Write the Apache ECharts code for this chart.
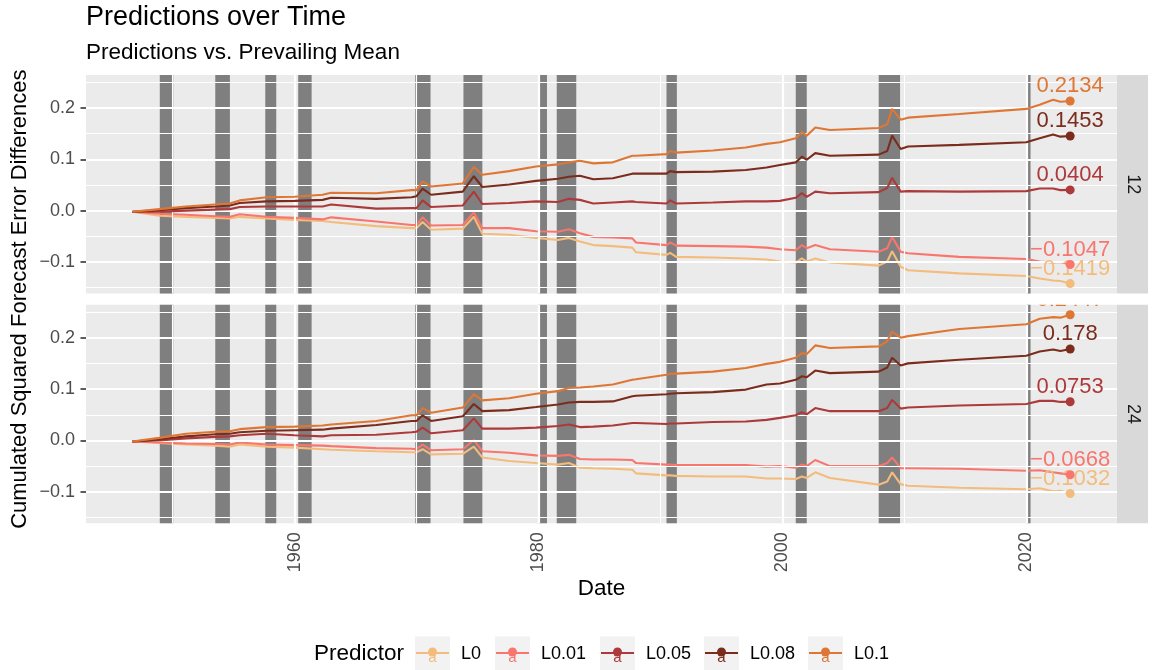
<!DOCTYPE html>
<html>
<head>
<meta charset="utf-8">
<title>Predictions over Time</title>
<script src="https://cdn.jsdelivr.net/npm/echarts@6/dist/echarts.min.js"></script>
<style>
  html, body { margin: 0; padding: 0; background: #fff; }
  #chart { width: 1153px; height: 670px; }
</style>
</head>
<body>
<div id="chart"></div>
<script>
// ---- data ----
var DATES = [
  1946.7, 1948.9, 1951.1, 1953.5, 1954.7, 1955.5, 1957.7, 1960.0, 1962.3, 1963.0,
  1966.7, 1969.6, 1970.0, 1970.5, 1971.2, 1973.8, 1974.7, 1975.4, 1977.6, 1979.8,
  1981.6, 1982.5, 1983.4, 1984.5, 1986.1, 1987.7, 1988.0, 1990.5, 1990.8, 1991.3,
  1994.3, 1997.0, 1998.7, 1999.8, 2001.1, 2001.6, 2002.0, 2002.7, 2003.9, 2007.9,
  2008.6, 2009.0, 2009.7, 2010.3, 2014.5, 2020.0, 2021.1, 2022.2, 2022.8, 2023.6
];
var PREDICTORS = ['L0', 'L0.01', 'L0.05', 'L0.08', 'L0.1'];
var HORIZONS = ['12', '24'];

// horizon 12
var H12_L0 = [
  -0.002, -0.010, -0.012, -0.014, -0.015, -0.012, -0.015, -0.018, -0.020, -0.022,
  -0.030, -0.034, -0.034, -0.022, -0.037, -0.035, -0.012, -0.045, -0.047, -0.053,
  -0.057, -0.053, -0.060, -0.067, -0.069, -0.072, -0.081, -0.086, -0.082, -0.090,
  -0.091, -0.093, -0.095, -0.099, -0.101, -0.093, -0.099, -0.093, -0.101, -0.107,
  -0.099, -0.079, -0.109, -0.116, -0.122, -0.127, -0.132, -0.136, -0.137, -0.1419
];
var H12_L001 = [
  -0.002, -0.006, -0.008, -0.011, -0.012, -0.007, -0.012, -0.014, -0.017, -0.013,
  -0.021, -0.028, -0.028, -0.013, -0.029, -0.028, -0.003, -0.034, -0.034, -0.040,
  -0.041, -0.036, -0.044, -0.051, -0.052, -0.054, -0.062, -0.067, -0.062, -0.068,
  -0.069, -0.070, -0.072, -0.075, -0.077, -0.067, -0.073, -0.067, -0.075, -0.080,
  -0.073, -0.051, -0.080, -0.083, -0.090, -0.094, -0.099, -0.101, -0.100, -0.1047
];
var H12_L005 = [
  -0.002, -0.002, 0.000, 0.002, 0.003, 0.007, 0.008, 0.008, 0.008, 0.012,
  0.004, 0.005, 0.005, 0.020, 0.007, 0.010, 0.037, 0.013, 0.015, 0.018,
  0.017, 0.023, 0.021, 0.014, 0.016, 0.018, 0.017, 0.014, 0.020, 0.014,
  0.016, 0.018, 0.018, 0.019, 0.025, 0.034, 0.027, 0.037, 0.034, 0.036,
  0.044, 0.064, 0.037, 0.038, 0.037, 0.038, 0.043, 0.043, 0.040, 0.0404
];
var H12_L008 = [
  -0.002, 0.001, 0.005, 0.008, 0.010, 0.015, 0.018, 0.019, 0.021, 0.025,
  0.023, 0.026, 0.028, 0.043, 0.031, 0.037, 0.067, 0.046, 0.051, 0.058,
  0.062, 0.066, 0.068, 0.061, 0.063, 0.072, 0.072, 0.072, 0.077, 0.075,
  0.076, 0.079, 0.084, 0.089, 0.094, 0.105, 0.099, 0.112, 0.107, 0.109,
  0.116, 0.146, 0.120, 0.125, 0.128, 0.133, 0.141, 0.148, 0.144, 0.1453
];
var H12_L01 = [
  -0.002, 0.003, 0.008, 0.012, 0.014, 0.020, 0.026, 0.027, 0.031, 0.035,
  0.034, 0.040, 0.040, 0.057, 0.047, 0.053, 0.085, 0.070, 0.077, 0.086,
  0.090, 0.094, 0.097, 0.092, 0.094, 0.107, 0.107, 0.110, 0.116, 0.113,
  0.117, 0.123, 0.130, 0.133, 0.141, 0.153, 0.146, 0.162, 0.157, 0.161,
  0.168, 0.198, 0.177, 0.181, 0.188, 0.198, 0.206, 0.216, 0.212, 0.2134
];

// horizon 24
var H24_L0 = [
  -0.002, -0.005, -0.008, -0.010, -0.012, -0.008, -0.012, -0.014, -0.017, -0.018,
  -0.021, -0.023, -0.023, -0.017, -0.027, -0.026, -0.012, -0.033, -0.040, -0.044,
  -0.047, -0.044, -0.053, -0.054, -0.055, -0.057, -0.064, -0.068, -0.068, -0.069,
  -0.070, -0.070, -0.074, -0.074, -0.075, -0.070, -0.073, -0.062, -0.073, -0.086,
  -0.080, -0.062, -0.085, -0.088, -0.092, -0.095, -0.093, -0.099, -0.098, -0.1032
];
var H24_L001 = [
  -0.002, -0.004, -0.006, -0.007, -0.008, -0.004, -0.008, -0.009, -0.010, -0.011,
  -0.015, -0.016, -0.017, -0.008, -0.019, -0.017, 0.001, -0.021, -0.024, -0.029,
  -0.030, -0.028, -0.036, -0.037, -0.037, -0.038, -0.044, -0.047, -0.047, -0.048,
  -0.048, -0.048, -0.051, -0.050, -0.053, -0.047, -0.050, -0.038, -0.050, -0.050,
  -0.044, -0.033, -0.054, -0.054, -0.055, -0.059, -0.058, -0.062, -0.064, -0.0668
];
var H24_L005 = [
  -0.002, 0.000, 0.004, 0.007, 0.008, 0.010, 0.013, 0.010, 0.008, 0.010,
  0.011, 0.016, 0.017, 0.025, 0.014, 0.020, 0.043, 0.023, 0.023, 0.025,
  0.028, 0.031, 0.026, 0.027, 0.029, 0.034, 0.034, 0.032, 0.033, 0.033,
  0.036, 0.037, 0.040, 0.044, 0.049, 0.055, 0.051, 0.063, 0.057, 0.057,
  0.063, 0.079, 0.062, 0.064, 0.068, 0.071, 0.077, 0.077, 0.075, 0.0753
];
var H24_L008 = [
  -0.002, 0.002, 0.008, 0.012, 0.013, 0.016, 0.019, 0.020, 0.021, 0.023,
  0.030, 0.038, 0.038, 0.049, 0.038, 0.047, 0.071, 0.057, 0.059, 0.065,
  0.070, 0.074, 0.075, 0.075, 0.076, 0.086, 0.087, 0.090, 0.091, 0.092,
  0.094, 0.099, 0.109, 0.111, 0.118, 0.125, 0.123, 0.136, 0.131, 0.134,
  0.142, 0.161, 0.146, 0.150, 0.157, 0.165, 0.173, 0.177, 0.174, 0.178
];
var H24_L01 = [
  -0.002, 0.005, 0.013, 0.017, 0.018, 0.022, 0.026, 0.027, 0.029, 0.031,
  0.038, 0.049, 0.049, 0.063, 0.054, 0.064, 0.090, 0.078, 0.082, 0.091,
  0.096, 0.102, 0.103, 0.105, 0.109, 0.118, 0.119, 0.128, 0.130, 0.130,
  0.134, 0.141, 0.149, 0.153, 0.161, 0.170, 0.168, 0.185, 0.180, 0.183,
  0.193, 0.212, 0.200, 0.203, 0.217, 0.226, 0.237, 0.240, 0.239, 0.2447
];

// recession shading (start, end in decimal years)
var RECESSIONS = [
  [1948.95, 1950.05], [1953.5, 1954.7], [1957.6, 1958.5], [1960.3, 1961.4],
  [1969.9, 1971.15], [1973.85, 1975.4], [1980.0, 1980.7], [1981.5, 1983.1],
  [1990.5, 1991.35], [2001.1, 2002.0], [2007.9, 2009.65], [2020.05, 2020.35]
];

var X_TICKS = [1960, 1980, 2000, 2020];
var X_MINOR = [1950, 1970, 1990, 2010];
var Y_TICKS = [-0.1, 0.0, 0.1, 0.2];
var Y_MINOR = [-0.15, -0.05, 0.05, 0.15, 0.25];

// ---- styling / layout ----
var FONT = 'Liberation Sans, Arial, Helvetica, sans-serif';
var COLORS = ['#F3BC7C', '#F8766D', '#AD3A3A', '#7B2C1C', '#DE7735'];
var X_MIN = 1942.9, X_MAX = 2027.44;
var Y_MIN = -0.1612, Y_MAX = 0.2640;
var PANEL_LEFT = 86, PANEL_W = 1031, PANEL_H = 218.5;
var PANEL_TOPS = [75, 304.8];
var STRIP_W = 31;

var PANEL_VALUES = [
  [H12_L0, H12_L001, H12_L005, H12_L008, H12_L01],
  [H24_L0, H24_L001, H24_L005, H24_L008, H24_L01]
];

function fmtNum(v) {
  var s = String(Number(v.toFixed(4)));
  return s.charAt(0) === '-' ? '\u2212' + s.slice(1) : s;
}

var chart = echarts.init(document.getElementById('chart'), null, { renderer: 'canvas' });

var grids = [], xAxes = [], yAxes = [], series = [], graphics = [];

PANEL_TOPS.forEach(function (top, p) {
  var isBottom = p === PANEL_TOPS.length - 1;
  grids.push({
    left: PANEL_LEFT, top: top, width: PANEL_W, height: PANEL_H,
    show: true, backgroundColor: '#EBEBEB', borderWidth: 0,
    containLabel: false, outerBoundsMode: 'none'
  });
  xAxes.push({
    type: 'value', gridIndex: p, min: X_MIN, max: X_MAX,
    axisLine: { show: false },
    splitLine: { show: false },
    axisTick: { show: isBottom, customValues: X_TICKS, length: 5.5,
      lineStyle: { color: '#333333', width: 1.6 } },
    axisLabel: { show: isBottom, customValues: X_TICKS, rotate: 90, margin: 9,
      fontSize: 18, color: '#4D4D4D', fontFamily: FONT,
      formatter: function (v) { return String(v); } }
  });
  yAxes.push({
    type: 'value', gridIndex: p, min: Y_MIN, max: Y_MAX,
    axisLine: { show: false },
    splitLine: { show: false },
    axisTick: { show: true, customValues: Y_TICKS, length: 5.5,
      lineStyle: { color: '#333333', width: 1.6 } },
    axisLabel: { customValues: Y_TICKS, margin: 11, fontSize: 18,
      color: '#4D4D4D', fontFamily: FONT,
      formatter: function (v) {
        return (v < -1e-9 ? '\u2212' : '') + Math.abs(v).toFixed(1);
      } }
  });

  // grid lines (white, behind everything)
  var gridLines = [];
  X_MINOR.forEach(function (v) { gridLines.push({ xAxis: v, lineStyle: { width: 1.1 } }); });
  Y_MINOR.forEach(function (v) { gridLines.push({ yAxis: v, lineStyle: { width: 1.1 } }); });
  X_TICKS.forEach(function (v) { gridLines.push({ xAxis: v, lineStyle: { width: 2.2 } }); });
  Y_TICKS.forEach(function (v) { gridLines.push({ yAxis: v, lineStyle: { width: 2.2 } }); });
  series.push({
    type: 'line', xAxisIndex: p, yAxisIndex: p, z: 1, silent: true,
    data: [[X_MIN, 0]], symbol: 'none', lineStyle: { opacity: 0 },
    animation: false,
    markLine: {
      silent: true, symbol: ['none', 'none'], animation: false,
      label: { show: false },
      lineStyle: { color: '#FFFFFF', type: 'solid' },
      emphasis: { disabled: true },
      data: gridLines
    }
  });

  // recession bars
  series.push({
    type: 'line', xAxisIndex: p, yAxisIndex: p, z: 2, silent: true,
    data: [[X_MIN, 0]], symbol: 'none', lineStyle: { opacity: 0 },
    animation: false,
    markArea: {
      silent: true, animation: false,
      itemStyle: { color: '#7F7F7F', opacity: 1 },
      emphasis: { disabled: true },
      data: RECESSIONS.map(function (r) { return [{ xAxis: r[0] }, { xAxis: r[1] }]; })
    }
  });

  // predictor lines
  PANEL_VALUES[p].forEach(function (vals, k) {
    var color = COLORS[k];
    series.push({
      name: PREDICTORS[k],
      type: 'line', xAxisIndex: p, yAxisIndex: p, z: 3 + k,
      symbol: 'none', animation: false, silent: true,
      lineStyle: { color: color, width: 2.1 },
      itemStyle: { color: color },
      data: vals.map(function (v, i) { return [DATES[i], v]; })
    });
  });

  // end points with value labels, clipped to the panel like ggplot
  series.push({
    type: 'custom', xAxisIndex: p, yAxisIndex: p, z: 10, clip: true,
    silent: true, animation: false,
    data: PANEL_VALUES[p].map(function (vals, k) {
      return [DATES[DATES.length - 1], vals[vals.length - 1], k];
    }),
    renderItem: function (params, api) {
      var v = api.value(1), k = api.value(2);
      var pt = api.coord([api.value(0), v]);
      return {
        type: 'group',
        children: [
          { type: 'circle', shape: { cx: pt[0], cy: pt[1], r: 4.5 },
            style: { fill: COLORS[k] } },
          { type: 'text', x: pt[0], y: pt[1] - 15,
            style: { text: fmtNum(v), fill: COLORS[k], font: '22px ' + FONT,
              align: 'center', verticalAlign: 'middle',
              textAlign: 'center', textVerticalAlign: 'middle' } }
        ]
      };
    }
  });

  // facet strip
  graphics.push({
    type: 'rect', z: 50,
    shape: { x: PANEL_LEFT + PANEL_W, y: top, width: STRIP_W, height: PANEL_H },
    style: { fill: '#D9D9D9' }
  });
  graphics.push({
    type: 'text', z: 51,
    x: PANEL_LEFT + PANEL_W + STRIP_W / 2, y: top + PANEL_H / 2,
    rotation: -Math.PI / 2,
    style: { text: HORIZONS[p], fill: '#1A1A1A', font: '18px ' + FONT,
      align: 'center', verticalAlign: 'middle' }
  });
});

// axis titles
graphics.push({
  type: 'text', x: 20, y: (PANEL_TOPS[0] + PANEL_TOPS[1] + PANEL_H) / 2,
  rotation: Math.PI / 2,
  style: { text: 'Cumulated Squared Forecast Error Differences', fill: '#000',
    font: '22px ' + FONT, align: 'center', verticalAlign: 'middle' }
});
graphics.push({
  type: 'text', x: PANEL_LEFT + PANEL_W / 2, y: 589,
  style: { text: 'Date', fill: '#000', font: '22.5px ' + FONT,
    align: 'center', verticalAlign: 'middle' }
});

// legend
var LEGEND_Y = 654;
var KEY_X = [415, 495, 600, 704, 808];
graphics.push({
  type: 'text', x: 314, y: LEGEND_Y,
  style: { text: 'Predictor', fill: '#000', font: '22.5px ' + FONT,
    align: 'left', verticalAlign: 'middle' }
});
PREDICTORS.forEach(function (name, k) {
  var x = KEY_X[k], c = COLORS[k];
  graphics.push({ type: 'rect', shape: { x: x, y: LEGEND_Y - 17.5, width: 35, height: 35 },
    style: { fill: '#F2F2F2' } });
  graphics.push({ type: 'line', shape: { x1: x + 1, y1: LEGEND_Y - 1, x2: x + 34, y2: LEGEND_Y - 1 },
    style: { stroke: c, lineWidth: 2.1 } });
  graphics.push({ type: 'circle', shape: { cx: x + 17.5, cy: LEGEND_Y - 2, r: 4.5 },
    style: { fill: c } });
  graphics.push({ type: 'text', x: x + 17.5, y: LEGEND_Y + 4,
    style: { text: 'a', fill: c, font: '15px ' + FONT, align: 'center', verticalAlign: 'middle' } });
  graphics.push({ type: 'text', x: x + 46, y: LEGEND_Y,
    style: { text: name, fill: '#000', font: '18px ' + FONT, align: 'left', verticalAlign: 'middle' } });
});

chart.setOption({
  backgroundColor: '#FFFFFF',
  animation: false,
  title: {
    left: PANEL_LEFT, top: 3, padding: 0, itemGap: 7,
    text: 'Predictions over Time',
    subtext: 'Predictions vs. Prevailing Mean',
    textStyle: { fontSize: 27, fontWeight: 'normal', color: '#000', fontFamily: FONT, lineHeight: 30 },
    subtextStyle: { fontSize: 22.5, color: '#000', fontFamily: FONT, lineHeight: 25 }
  },
  grid: grids,
  xAxis: xAxes,
  yAxis: yAxes,
  series: series,
  graphic: { elements: graphics }
});
</script>
</body>
</html>
